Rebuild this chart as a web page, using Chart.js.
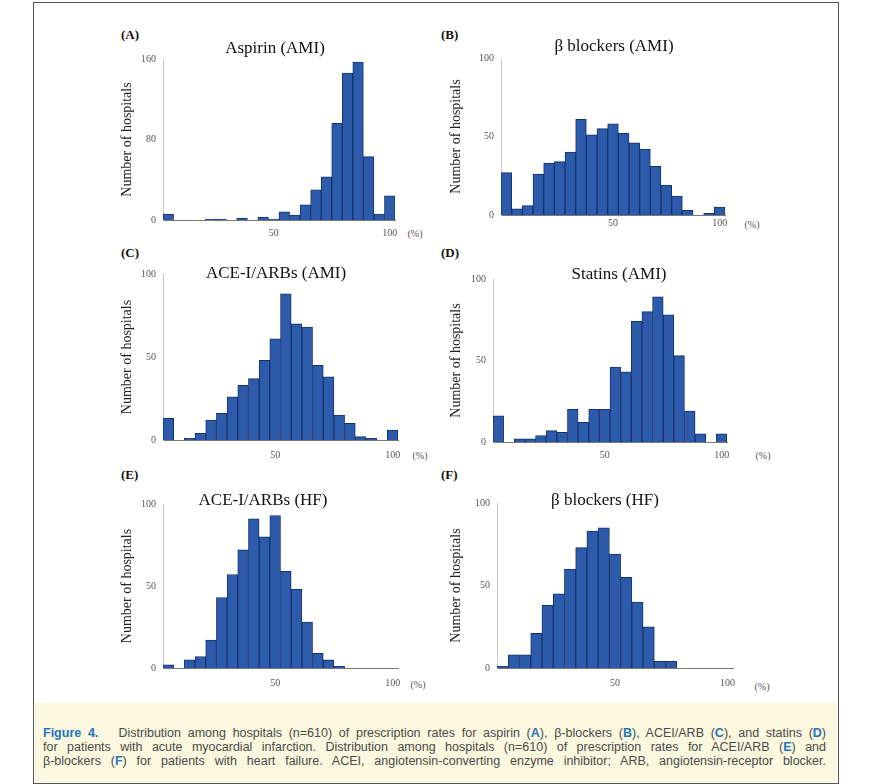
<!DOCTYPE html>
<html>
<head>
<meta charset="utf-8">
<script src="https://cdn.jsdelivr.net/npm/chart.js@4.4.0/dist/chart.umd.min.js"></script>
<style>
body { margin:0; background:#fff; }
#fig { position:relative; width:870px; height:784px; overflow:hidden; background:#fff; font-family:"Liberation Serif", serif; }
.frame { position:absolute; left:33px; top:2px; width:804px; height:780px; border:1px solid #555; background:#fffffd; }
.panel { position:absolute; }
.lbl { position:absolute; font-weight:bold; font-size:13px; color:#111; transform:translateY(-50%); }
.ttl { position:absolute; font-size:17px; color:#111; transform:translate(-50%,-50%); white-space:nowrap; }
.pct { position:absolute; font-size:10px; color:#555; transform:translate(-50%,-50%); }
.caption { position:absolute; left:35px; top:703px; width:801px; height:79px; background:#fbf8df; }
.caption div { position:absolute; left:8px; width:783px; font-family:"Liberation Sans Narrow", "Liberation Sans", sans-serif; font-size:12.5px; color:#4a4a4a; text-align:justify; text-align-last:justify; line-height:14px; white-space:nowrap; }
.caption b { color:#1f74bd; }
</style>
</head>
<body>
<div id="fig">
  <div class="frame"></div>

  <div class="panel" id="pA"><canvas id="cA"></canvas></div>
  <div class="panel" id="pB"><canvas id="cB"></canvas></div>
  <div class="panel" id="pC"><canvas id="cC"></canvas></div>
  <div class="panel" id="pD"><canvas id="cD"></canvas></div>
  <div class="panel" id="pE"><canvas id="cE"></canvas></div>
  <div class="panel" id="pF"><canvas id="cF"></canvas></div>

  <div class="lbl" style="left:121px;top:35px">(A)</div>
  <div class="lbl" style="left:441px;top:35px">(B)</div>
  <div class="lbl" style="left:121px;top:253px">(C)</div>
  <div class="lbl" style="left:441px;top:253px">(D)</div>
  <div class="lbl" style="left:121px;top:475px">(E)</div>
  <div class="lbl" style="left:441px;top:475px">(F)</div>

  <div class="ttl" style="left:275px;top:48px">Aspirin (AMI)</div>
  <div class="ttl" style="left:614px;top:46px">β blockers (AMI)</div>
  <div class="ttl" style="left:276px;top:273px">ACE-I/ARBs (AMI)</div>
  <div class="ttl" style="left:619px;top:274px">Statins (AMI)</div>
  <div class="ttl" style="left:263px;top:500px">ACE-I/ARBs (HF)</div>
  <div class="ttl" style="left:605px;top:500px">β blockers (HF)</div>

  <div class="pct" style="left:415px;top:233px">(%)</div>
  <div class="pct" style="left:752px;top:224px">(%)</div>
  <div class="pct" style="left:420px;top:455px">(%)</div>
  <div class="pct" style="left:763px;top:455px">(%)</div>
  <div class="pct" style="left:418px;top:684px">(%)</div>
  <div class="pct" style="left:762px;top:686px">(%)</div>

  <div class="caption">
    <div style="top:23px"><b>Figure 4.</b>&nbsp;&nbsp;&nbsp;Distribution among hospitals (n=610) of prescription rates for aspirin (<b>A</b>), β-blockers (<b>B</b>), ACEI/ARB (<b>C</b>), and statins (<b>D</b>)</div>
    <div style="top:37px">for patients with acute myocardial infarction. Distribution among hospitals (n=610) of prescription rates for ACEI/ARB (<b>E</b>) and</div>
    <div style="top:51px">β-blockers (<b>F</b>) for patients with heart failure. ACEI, angiotensin-converting enzyme inhibitor; ARB, angiotensin-receptor blocker.</div>
  </div>
</div>

<script>
// tick labels of the bins (only 50 and 100 are shown)
var ticks22 = ['', '', '', '', '', '', '', '', '', '', '50', '', '', '', '', '', '', '', '', '', '', '100'];
var ticks21 = ['', '', '', '', '', '', '', '', '', '', '50', '', '', '', '', '', '', '', '', '', '100'];

// number of hospitals per bin
var aspirinAMI = [6, 0, 0, 0, 1, 1, 0, 2, 0, 3, 1, 8, 5, 15, 30, 43, 96, 146, 157, 63, 6, 24];
var betaAMI    = [27, 4, 6, 26, 33, 34, 40, 61, 51, 55, 58, 52, 46, 42, 31, 19, 12, 3, 0, 1, 5];
var aceAMI     = [13, 0, 1, 4, 12, 16, 26, 33, 37, 48, 61, 88, 70, 68, 45, 38, 15, 10, 2, 1, 0, 6];
var statinAMI  = [16, 0, 2, 2, 4, 7, 6, 20, 12, 20, 20, 46, 43, 74, 80, 89, 78, 53, 19, 5, 0, 5];
var aceHF      = [2, 0, 5, 7, 17, 43, 57, 72, 91, 80, 93, 59, 48, 28, 9, 5, 1, 0, 0, 0, 0, 0];
var betaHF     = [1, 8, 8, 21, 38, 45, 60, 73, 83, 85, 69, 55, 40, 25, 4, 4, 0, 0, 0, 0, 0];

var serif = '"Liberation Serif", serif';

// where each plot sits on the page
var paneles = [
  {id:'A', labels:ticks22, data:aspirinAMI, max:160, step:80, left:115, x0:163, x1:395, y0:58,  y1:220, xpad:7},
  {id:'B', labels:ticks21, data:betaAMI,    max:100, step:50, left:444, x0:501, x1:725, y0:57,  y1:215, xpad:2},
  {id:'C', labels:ticks22, data:aceAMI,     max:100, step:50, left:115, x0:163, x1:398, y0:273, y1:440, xpad:9},
  {id:'D', labels:ticks22, data:statinAMI,  max:100, step:50, left:444, x0:493, x1:727, y0:278, y1:442, xpad:7},
  {id:'E', labels:ticks22, data:aceHF,      max:100, step:50, left:115, x0:163, x1:398, y0:503, y1:668, xpad:9},
  {id:'F', labels:ticks21, data:betaHF,     max:100, step:50, left:444, x0:497, x1:733, y0:502, y1:668, xpad:9}
];

for (let p of paneles) {
  var padTop = 12, padRight = 12, xH = 24;
  var w = p.x1 - p.left + padRight;
  var h = p.y1 - p.y0 + padTop + xH;
  var box = document.getElementById('p' + p.id);
  box.style.left = p.left + 'px';
  box.style.top = (p.y0 - padTop) + 'px';
  var cv = document.getElementById('c' + p.id);
  cv.width = w;
  cv.height = h;
  var yW = p.x0 - p.left;

  new Chart(cv.getContext('2d'), {
    type: 'bar',
    data: {
      labels: p.labels,
      datasets: [{
        data: p.data,
        backgroundColor: '#2d5bab',
        borderColor: '#17326a',
        borderWidth: 1,
        categoryPercentage: 1,
        barPercentage: 1
      }]
    },
    options: {
      responsive: false,
      animation: false,
      layout: { padding: { top: padTop, right: padRight, left: 0, bottom: 0 } },
      plugins: { legend: { display: false }, tooltip: { enabled: false } },
      scales: {
        x: {
          grid: { display: false, drawTicks: false },
          border: { display: true, color: '#777' },
          ticks: { autoSkip: false, maxRotation: 0, padding: p.xpad, color: '#555', font: { family: serif, size: 10 } },
          afterFit: function (s) { s.height = xH; }
        },
        y: {
          min: 0,
          max: p.max,
          ticks: { stepSize: p.step, padding: 7, color: '#555', font: { family: serif, size: 10 } },
          grid: { display: false, drawTicks: false },
          border: { display: true, color: '#c8c8c8' },
          title: { display: true, text: 'Number of hospitals', color: '#222', font: { family: serif, size: 14 }, padding: { top: 4, bottom: 0 } },
          afterFit: (function (yw) { return function (s) { s.width = yw; }; })(yW)
        }
      }
    }
  });
}
</script>
</body>
</html>
